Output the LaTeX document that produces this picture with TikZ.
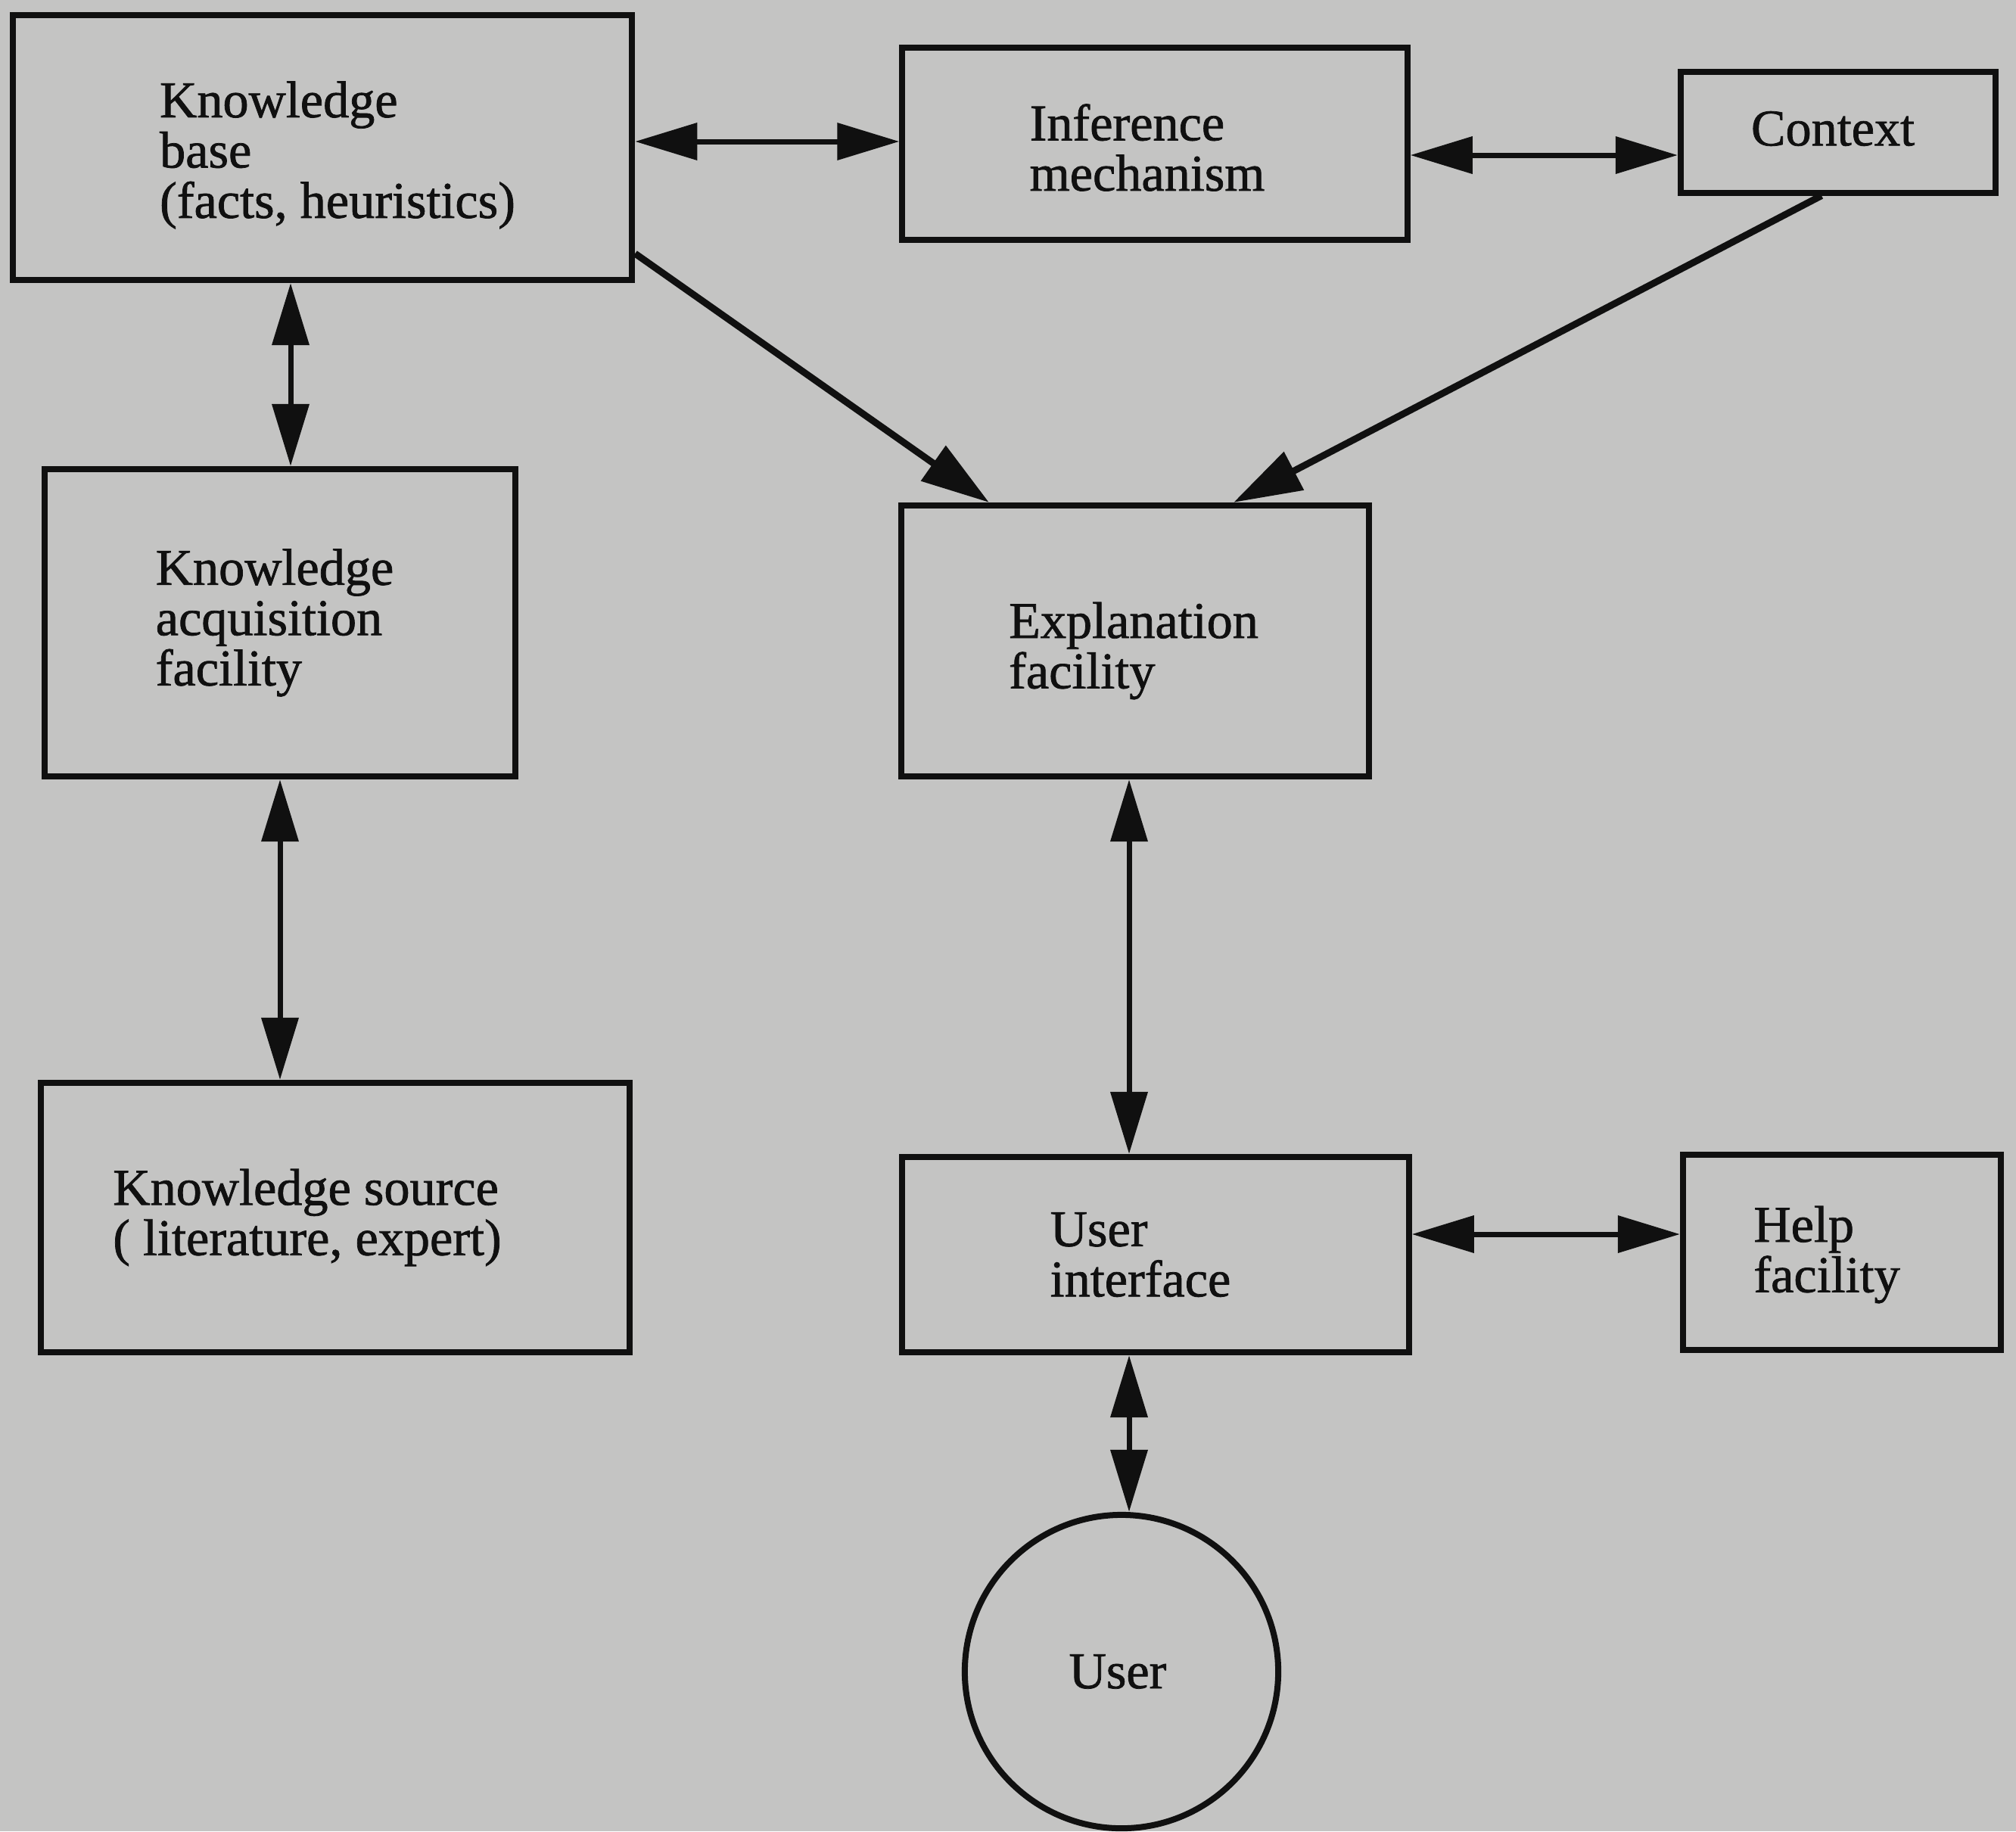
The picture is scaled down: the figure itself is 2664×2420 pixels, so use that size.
\documentclass[tikz,border=0pt]{standalone}
\usepackage{fontspec}
\setmainfont{Liberation Serif}
\newfontfamily\labelfont{Liberation Serif}[FakeBold=1.1]
\usetikzlibrary{arrows.meta}
\definecolor{paper}{RGB}{196,196,195}
\definecolor{ink}{RGB}{16,16,16}
\begin{document}
\begin{tikzpicture}[x=0.01cm,y=-0.01cm,
  box/.style={draw=ink, line width=0.08cm, rectangle, inner sep=0pt},
  lbl/.style={inner sep=0pt, align=left, text=ink,
    font=\labelfont\fontsize{19.4}{18.9}\selectfont},
  link/.style={draw=ink, line width=0.07cm,
    {Triangle[length=0.82cm,width=0.48cm]}-{Triangle[length=0.82cm,width=0.48cm]}},
  feed/.style={draw=ink, line width=0.09cm,
    -{Triangle[length=0.9cm,width=0.55cm]}}]
% page
\fill[paper] (0,0) rectangle (2664,2420);
\useasboundingbox (0,0) rectangle (2664,2420);

% components
\node[box, minimum width=8.18cm, minimum height=3.50cm] (kb) at (426,195) {};
\node[box, minimum width=6.67cm, minimum height=2.53cm] (inf) at (1526,190) {};
\node[box, minimum width=4.16cm, minimum height=1.59cm] (ctx) at (2429,175) {};
\node[box, minimum width=6.22cm, minimum height=4.06cm] (kaf) at (370,823) {};
\node[box, minimum width=6.18cm, minimum height=3.58cm] (expl) at (1500,847) {};
\node[box, minimum width=7.78cm, minimum height=3.56cm] (ks) at (443,1609) {};
\node[box, minimum width=6.69cm, minimum height=2.58cm] (ui) at (1527,1658) {};
\node[box, minimum width=4.20cm, minimum height=2.58cm] (help) at (2434,1655) {};
\node[box, circle, minimum size=4.14cm] (user) at (1482,2209) {};

% labels
\node[lbl] (kb-t) at ([xshift=0.20cm,yshift=-0.10cm]kb.center)
  {Knowledge\\base\\(facts, heuristics)};
\node[lbl] (inf-t) at ([xshift=-0.10cm,yshift=-0.05cm]inf.center)
  {Inference\\mechanism};
\node[lbl] (ctx-t) at ([xshift=-0.07cm,yshift=0.05cm]ctx.center) {Context};
\node[lbl] (kaf-t) at ([xshift=-0.07cm]kaf.center)
  {Knowledge\\acquisition\\facility};
\node[lbl] (expl-t) at ([xshift=-0.02cm,yshift=-0.13cm]expl.center)
  {Explanation\\facility};
\node[lbl] (ks-t) at ([xshift=-0.37cm]ks.center)
  {Knowledge source\\( literature, expert)};
\node[lbl] (ui-t) at ([xshift=-0.20cm]ui.center) {User\\interface};
\node[lbl] (help-t) at ([xshift=-0.20cm,yshift=-0.03cm]help.center)
  {Help\\facility};
\node[lbl] (user-t) at ([xshift=-0.05cm]user.center) {User};

% attachment points of the connectors
\coordinate (a1) at ([yshift=0.08cm]kb.east);
\coordinate (a2) at ([yshift=-0.15cm]inf.east);
\coordinate (a5) at ([xshift=0.14cm]kaf.north);
\coordinate (a7) at ([xshift=-0.08cm]expl.south);
\coordinate (a8) at ([yshift=0.27cm]ui.east);
\coordinate (a9) at ([xshift=0.10cm]user.north);

% connectors
\draw[link] (a1) -- (a1 -| inf.west);
\draw[link] (a2) -- (a2 -| ctx.west);
\draw[feed] ([yshift=-1.40cm]kb.east) -- ([xshift=-1.93cm]expl.north);
\draw[feed] ([xshift=-0.22cm]ctx.south) -- ([xshift=1.30cm]expl.north);
\draw[link] (a5 |- kb.south) -- (a5);
\draw[link] (kaf.south) -- (kaf.south |- ks.north);
\draw[link] (a7) -- (a7 |- ui.north);
\draw[link] (a8) -- (a8 -| help.west);
\draw[link] (a9 |- ui.south) -- (a9);
\end{tikzpicture}
\end{document}
